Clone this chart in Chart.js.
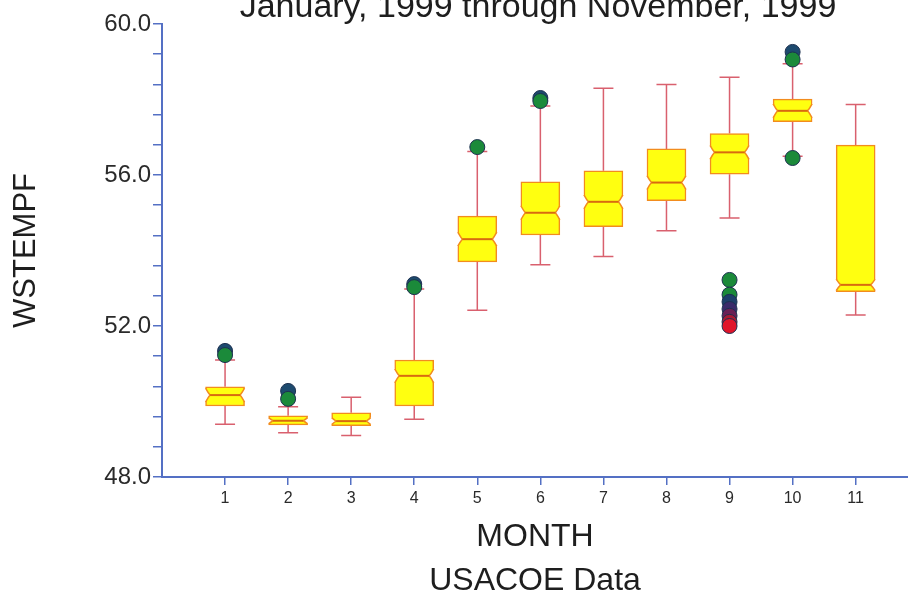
<!DOCTYPE html>
<html>
<head>
<meta charset="utf-8">
<script src="https://cdn.jsdelivr.net/npm/chart.js@4"></script>
<style>
  html, body { margin: 0; padding: 0; background: #fff; overflow: hidden; }
  #wrap { position: relative; width: 908px; height: 600px; }
  #title {
    position: absolute; left: 538px; top: -12px; transform: translateX(-50%);
    font: 34px "Liberation Sans", Arial, sans-serif; line-height: 34px;
    color: #1e1e1e; white-space: nowrap;
  }
</style>
</head>
<body>
<div id="wrap">
  <canvas id="box-chart" width="908" height="600"></canvas>
  <div id="title">January, 1999 through November, 1999</div>
</div>
<script>
// box plot values per month
const months = [1, 2, 3, 4, 5, 6, 7, 8, 9, 10, 11];
const whiskLo = [49.40, 49.17, 49.10, 49.53, 52.42, 53.62, 53.84, 54.52, 54.86, 56.50, 52.29];
const q1 = [49.88, 49.38, 49.36, 49.88, 53.70, 54.41, 54.63, 55.32, 56.02, 57.41, 52.91];
const median = [50.17, 49.49, 49.48, 50.68, 54.30, 55.00, 55.29, 55.80, 56.60, 57.70, 53.09];
const q3 = [50.39, 49.62, 49.70, 51.10, 54.91, 55.82, 56.11, 56.69, 57.10, 58.01, 56.79];
const whiskHi = [51.10, 49.86, 50.11, 52.98, 56.62, 57.83, 58.30, 58.40, 58.59, 58.95, 57.87];

// outliers
const outMonth = [1, 1, 2, 2, 4, 4, 5, 6, 6, 9, 9, 9, 9, 9, 9, 9, 10, 10, 10];
const outValue = [51.34, 51.23, 50.28, 50.07, 53.11, 53.03, 56.74, 58.04, 57.96,
                  53.22, 52.83, 52.64, 52.45, 52.27, 52.11, 52.00, 59.26, 59.06, 56.45];
const outColors = ['#1d4a6e', '#1b8a3a', '#1d4a6e', '#1b8a3a', '#1d4a6e', '#1b8a3a', '#1b8a3a',
                   '#1d4a6e', '#1b8a3a', '#1b8a3a', '#1b8a3a', '#1d3f6a', '#3a2a6a', '#6a1f55',
                   '#a81a35', '#e0142a', '#1d4a6e', '#1b8a3a', '#1b8a3a'];

// axis ticks
const xTicks = [1, 2, 3, 4, 5, 6, 7, 8, 9, 10, 11];
const yLabelTicks = [48, 52, 56, 60];
const yMinorStep = 0.8;

const axisBlue = '#5470c4';
const boxFill = '#ffff10';
const boxEdge = '#f28c1e';
const medianColor = '#d86a10';
const whiskerColor = '#d9606e';
const font = '"Liberation Sans", Arial, sans-serif';

const whiskerPlugin = {
  id: 'whiskers',
  beforeDatasetsDraw(chart) {
    const { ctx, scales: { x, y } } = chart;
    ctx.save();
    ctx.strokeStyle = whiskerColor;
    ctx.lineWidth = 1.5;
    months.forEach((m, i) => {
      const px = x.getPixelForValue(m);
      const segs = [[whiskHi[i], q3[i]], [q1[i], whiskLo[i]]];
      ctx.beginPath();
      segs.forEach(([a, b]) => {
        ctx.moveTo(px, y.getPixelForValue(a));
        ctx.lineTo(px, y.getPixelForValue(b));
      });
      [whiskHi[i], whiskLo[i]].forEach(v => {
        const py = y.getPixelForValue(v);
        ctx.moveTo(px - 10, py);
        ctx.lineTo(px + 10, py);
      });
      ctx.stroke();
    });
    ctx.restore();
  },
  afterDatasetDraw(chart, args) {
    if (args.index !== 0) return;
    const { ctx, scales: { y } } = chart;
    const bars = chart.getDatasetMeta(0).data;
    ctx.save();
    bars.forEach((bar, i) => {
      const half = bar.width / 2;
      const xl = bar.x - half, xr = bar.x + half;
      const top = y.getPixelForValue(q3[i]);
      const bot = y.getPixelForValue(q1[i]);
      const my = y.getPixelForValue(median[i]);
      const h = Math.min(7, my - top - 1, bot - my - 1);
      const d = 4.5;
      if (h > 1.5) {
        // cut the notch out of both sides
        ctx.fillStyle = '#fff';
        [[xl, 1], [xr, -1]].forEach(([ex, s]) => {
          ctx.beginPath();
          ctx.moveTo(ex - 2 * s, my - h);
          ctx.lineTo(ex, my - h);
          ctx.quadraticCurveTo(ex + d * s * 0.6, my - h * 0.3, ex + d * s, my);
          ctx.quadraticCurveTo(ex + d * s * 0.6, my + h * 0.3, ex, my + h);
          ctx.lineTo(ex - 2 * s, my + h);
          ctx.closePath();
          ctx.fill();
          ctx.strokeStyle = boxEdge;
          ctx.lineWidth = 1.5;
          ctx.beginPath();
          ctx.moveTo(ex, my - h);
          ctx.quadraticCurveTo(ex + d * s * 0.6, my - h * 0.3, ex + d * s, my);
          ctx.quadraticCurveTo(ex + d * s * 0.6, my + h * 0.3, ex, my + h);
          ctx.stroke();
        });
      }
      ctx.strokeStyle = medianColor;
      ctx.lineWidth = 2;
      ctx.beginPath();
      ctx.moveTo(xl + (h > 1.5 ? d : 1), my);
      ctx.lineTo(xr - (h > 1.5 ? d : 1), my);
      ctx.stroke();
    });
    ctx.restore();
  }
};

const ctx = document.getElementById('box-chart').getContext('2d');
new Chart(ctx, {
  type: 'bar',
  data: {
    datasets: [{
      type: 'bar',
      label: 'Box',
      data: months.map((m, i) => ({ x: m, y: [q1[i], q3[i]] })),
      backgroundColor: boxFill,
      borderColor: boxEdge,
      borderWidth: 1.5,
      borderSkipped: false,
      barThickness: 39,
      grouped: false
    }, {
      type: 'scatter',
      label: 'Outliers',
      data: outMonth.map((m, i) => ({ x: m, y: outValue[i] })),
      backgroundColor: outColors,
      borderColor: '#1c3050',
      borderWidth: 1,
      pointRadius: 7.5,
      pointHoverRadius: 7.5
    }]
  },
  options: {
    responsive: false,
    animation: false,
    layout: { autoPadding: false, padding: { top: 24, left: 0, right: 0, bottom: 0 } },
    plugins: {
      legend: { display: false },
      tooltip: { enabled: false },
      title: { display: false }
    },
    scales: {
      x: {
        type: 'linear',
        min: 0,
        max: 11.83,
        offset: false,
        afterBuildTicks: scale => { scale.ticks = xTicks.map(v => ({ value: v })); },
        afterFit: scale => { scale.height = 123; },
        ticks: {
          color: '#2a2a2a',
          font: { family: font, size: 16 },
          padding: 4,
          maxRotation: 0,
          autoSkip: false
        },
        grid: {
          offset: false, drawOnChartArea: false, drawTicks: true, tickLength: 8,
          color: axisBlue, lineWidth: 1.5, tickColor: axisBlue, tickWidth: 1.5
        },
        border: { color: axisBlue, width: 2 },
        title: {
          display: true,
          text: ['MONTH', 'USACOE Data'],
          color: '#1e1e1e',
          font: { family: font, size: 32, lineHeight: 1.4 },
          padding: { top: 0, bottom: -4 }
        }
      },
      y: {
        type: 'linear',
        min: 48,
        max: 60,
        afterBuildTicks: scale => {
          const t = [];
          for (let v = 48; v <= 60.001; v += yMinorStep) t.push({ value: Math.round(v * 10) / 10 });
          scale.ticks = t;
        },
        afterFit: scale => { scale.width = 162; },
        ticks: {
          color: '#2a2a2a',
          font: { family: font, size: 24 },
          padding: 2,
          autoSkip: false,
          callback: v => yLabelTicks.includes(v) ? v.toFixed(1) : ''
        },
        grid: { drawOnChartArea: false, drawTicks: true, tickLength: 9, color: axisBlue, lineWidth: 1.5 },
        border: { color: axisBlue, width: 2 },
        title: {
          display: true,
          text: 'WSTEMPF',
          color: '#1e1e1e',
          font: { family: font, size: 31 },
          padding: { top: 8, bottom: 0 }
        }
      }
    }
  },
  plugins: [whiskerPlugin]
});
</script>
</body>
</html>
